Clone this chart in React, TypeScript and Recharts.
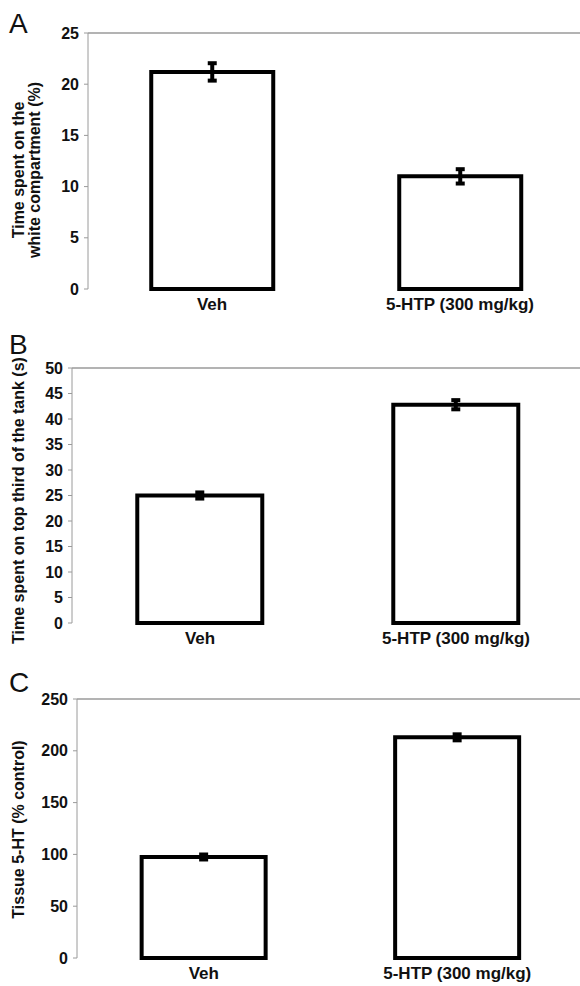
import React from "react";
import { BarChart, Bar, XAxis, YAxis, ErrorBar, ReferenceLine, Label } from "recharts";

const groups = ["Veh", "5-HTP (300 mg/kg)"];

// A: time in white compartment (%)
const whiteTime = [21.2, 11.0];
const whiteTimeErr = [0.85, 0.7];
const ticksA = [0, 5, 10, 15, 20, 25];

// B: time on top third of tank (s)
const topTime = [25.0, 42.8];
const topTimeErr = [0.6, 0.9];
const ticksB = [0, 5, 10, 15, 20, 25, 30, 35, 40, 45, 50];

// C: tissue 5-HT (% control)
const tissue5ht = [97.5, 213];
const tissue5htErr = [2.4, 2.9];
const ticksC = [0, 50, 100, 150, 200, 250];

const FONT = '"Liberation Sans", Arial, Helvetica, sans-serif';
const GRAY = "#9a9a9a";

function YTitle({ viewBox, lines, shift }: any) {
  const cy = viewBox.y + viewBox.height / 2 + shift;
  return (
    <g>
      {lines.map((line: string, i: number) => {
        const cx = 18 + i * 16;
        return (
          <text
            key={i}
            x={cx}
            y={cy}
            transform={`rotate(-90, ${cx}, ${cy})`}
            textAnchor="middle"
            dominantBaseline="central"
            fontFamily={FONT}
            fontWeight="bold"
            fontSize={16}
            fill="#111"
          >
            {line}
          </text>
        );
      })}
    </g>
  );
}

interface PanelProps {
  letter: string;
  letterTop: number;
  values: number[];
  errors: number[];
  ticks: number[];
  yLabel: string[];
  labelShift: number;
  top: number;
  height: number;
  plotTop: number;
  plotBottom: number;
  axisX: number;
}

function Panel(p: PanelProps) {
  const data = groups.map((g, i) => ({ group: g, value: p.values[i], err: p.errors[i] }));
  const max = p.ticks[p.ticks.length - 1];
  const catHeight = 26;
  return (
    <div style={{ position: "absolute", left: 0, top: p.top, width: 580, height: p.height }}>
      <div
        style={{
          position: "absolute",
          left: 9,
          top: p.letterTop - p.top,
          fontFamily: FONT,
          fontSize: 28,
          lineHeight: "28px",
          color: "#111",
        }}
      >
        {p.letter}
      </div>
      <BarChart
        width={580}
        height={p.height}
        data={data}
        margin={{
          top: p.plotTop - p.top,
          right: -4,
          bottom: p.top + p.height - p.plotBottom - catHeight,
          left: 0,
        }}
        barCategoryGap="25.5%"
      >
        <XAxis
          xAxisId="sep"
          type="number"
          domain={[0, 2]}
          ticks={[1, 2]}
          allowDataOverflow
          tick={false}
          tickSize={4}
          height={0}
          stroke={GRAY}
        />
        <XAxis
          xAxisId="cat"
          dataKey="group"
          axisLine={false}
          tickLine={false}
          tickSize={0}
          tickMargin={9}
          height={catHeight}
          tick={{ fontFamily: FONT, fontWeight: "bold", fontSize: 17, fill: "#111" }}
        />
        <YAxis
          width={p.axisX}
          domain={[0, max]}
          ticks={p.ticks}
          interval={0}
          tickSize={4}
          tickMargin={5}
          stroke={GRAY}
          tick={{ fontFamily: FONT, fontWeight: "bold", fontSize: 16, fill: "#111" }}
        >
          <Label content={(props: any) => <YTitle {...props} lines={p.yLabel} shift={p.labelShift} />} />
        </YAxis>
        <ReferenceLine y={max} xAxisId="cat" stroke={GRAY} strokeWidth={1.5} />
        <Bar
          dataKey="value"
          xAxisId="cat"
          fill="#fff"
          stroke="#000"
          strokeWidth={4}
          isAnimationActive={false}
        >
          <ErrorBar dataKey="err" width={4.5} strokeWidth={4} stroke="#000" direction="y" />
        </Bar>
      </BarChart>
    </div>
  );
}

export default function App() {
  return (
    <div style={{ position: "absolute", left: 0, top: 0, width: 580, height: 986, background: "#fff" }}>
      <Panel
        letter="A"
        letterTop={10}
        values={whiteTime}
        errors={whiteTimeErr}
        ticks={ticksA}
        yLabel={["Time spent on the", "white compartment (%)"]}
        labelShift={9}
        top={0}
        height={325}
        plotTop={33}
        plotBottom={289}
        axisX={88}
      />
      <Panel
        letter="B"
        letterTop={331}
        values={topTime}
        errors={topTimeErr}
        ticks={ticksB}
        yLabel={["Time spent on top third of the tank (s)"]}
        labelShift={5}
        top={325}
        height={335}
        plotTop={368}
        plotBottom={623}
        axisX={72}
      />
      <Panel
        letter="C"
        letterTop={669}
        values={tissue5ht}
        errors={tissue5htErr}
        ticks={ticksC}
        yLabel={["Tissue 5-HT (% control)"]}
        labelShift={1}
        top={660}
        height={326}
        plotTop={699}
        plotBottom={958}
        axisX={77}
      />
    </div>
  );
}
